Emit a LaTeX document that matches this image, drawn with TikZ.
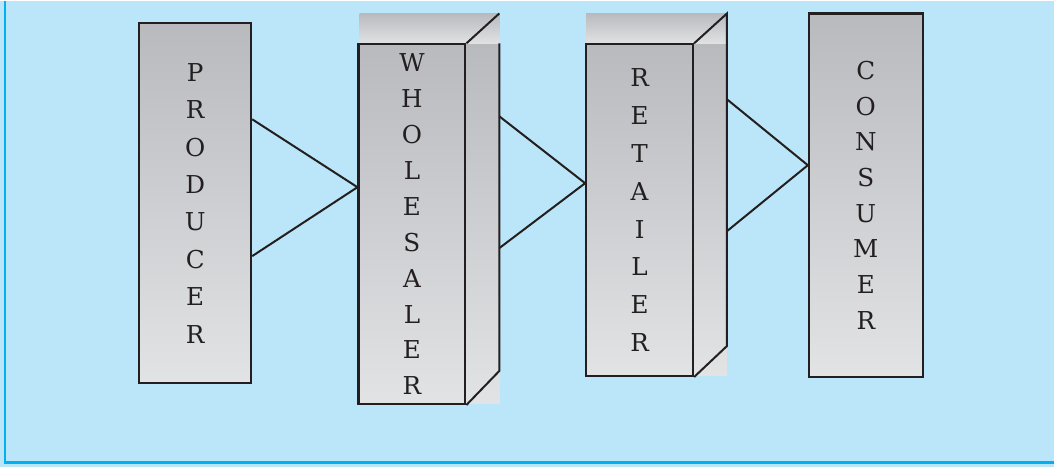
\documentclass[tikz,border=0pt]{standalone}
\usepackage{fontspec}
\setmainfont{DejaVu Serif}
\usepackage{tikz}
\definecolor{skyback}{RGB}{187,229,248}
\definecolor{skyline}{RGB}{0,176,240}
\definecolor{greytop}{RGB}{184,186,190}
\definecolor{greybot}{RGB}{226,227,229}
\definecolor{inkline}{RGB}{35,31,32}
\tikzset{
  stage/.style={draw=inkline, line width=1.6pt, top color=greytop, bottom color=greybot,
    align=center, inner sep=0pt, text=inkline, font=\fontsize{18.5}{#1}\selectfont},
  face/.style={top color=greytop, bottom color=greybot},
  link/.style={draw=inkline, line width=1.5pt}
}
\begin{document}
\begin{tikzpicture}[x=0.75pt,y=-0.75pt]
\fill[skyback] (0,0) rectangle (1055,466);
\draw[skyline,line width=2.2pt] (5,0) -- (5,462) -- (1055,462);
\shade[face] (360,12) rectangle (500,43);
\shade[face] (360,43) rectangle (500,403);
\shade[face] (587,12) rectangle (728,43);
\shade[face] (587,43) rectangle (728,375);
\node[stage=28.1pt, minimum width=84pt, minimum height=270pt] (producer) at (195.5,202)
  {P\\R\\O\\D\\U\\C\\E\\R};
\node[stage=27pt, minimum width=80.25pt, minimum height=270pt] (wholesaler) at (412.5,223)
  {W\\H\\O\\L\\E\\S\\A\\L\\E\\R};
\node[stage=28.4pt, minimum width=80.25pt, minimum height=249pt] (retailer) at (640.5,209)
  {R\\E\\T\\A\\I\\L\\E\\R};
\node[stage=26.8pt, minimum width=85.5pt, minimum height=273pt] (consumer) at (867,194)
  {C\\O\\N\\S\\U\\M\\E\\R};
\coordinate (wback) at (500,12);
\coordinate (rback) at (728,12);
\draw[link] (wholesaler.north east) -- (wback);
\draw[link] (wback |- wholesaler.north) -- (wback |- 0,370) -- (wholesaler.south east);
\draw[link] (retailer.north east) -- (rback) -- (rback |- 0,345) -- (retailer.south east);
\draw[link] (producer.east |- 0,118) -- (wholesaler.west |- 0,186) -- (producer.east |- 0,255);
\draw[link] (wback |- 0,115) -- (retailer.west |- 0,182) -- (wback |- 0,247);
\draw[link] (rback |- 0,98) -- (consumer.west |- 0,164) -- (rback |- 0,230);
\end{tikzpicture}
\end{document}
